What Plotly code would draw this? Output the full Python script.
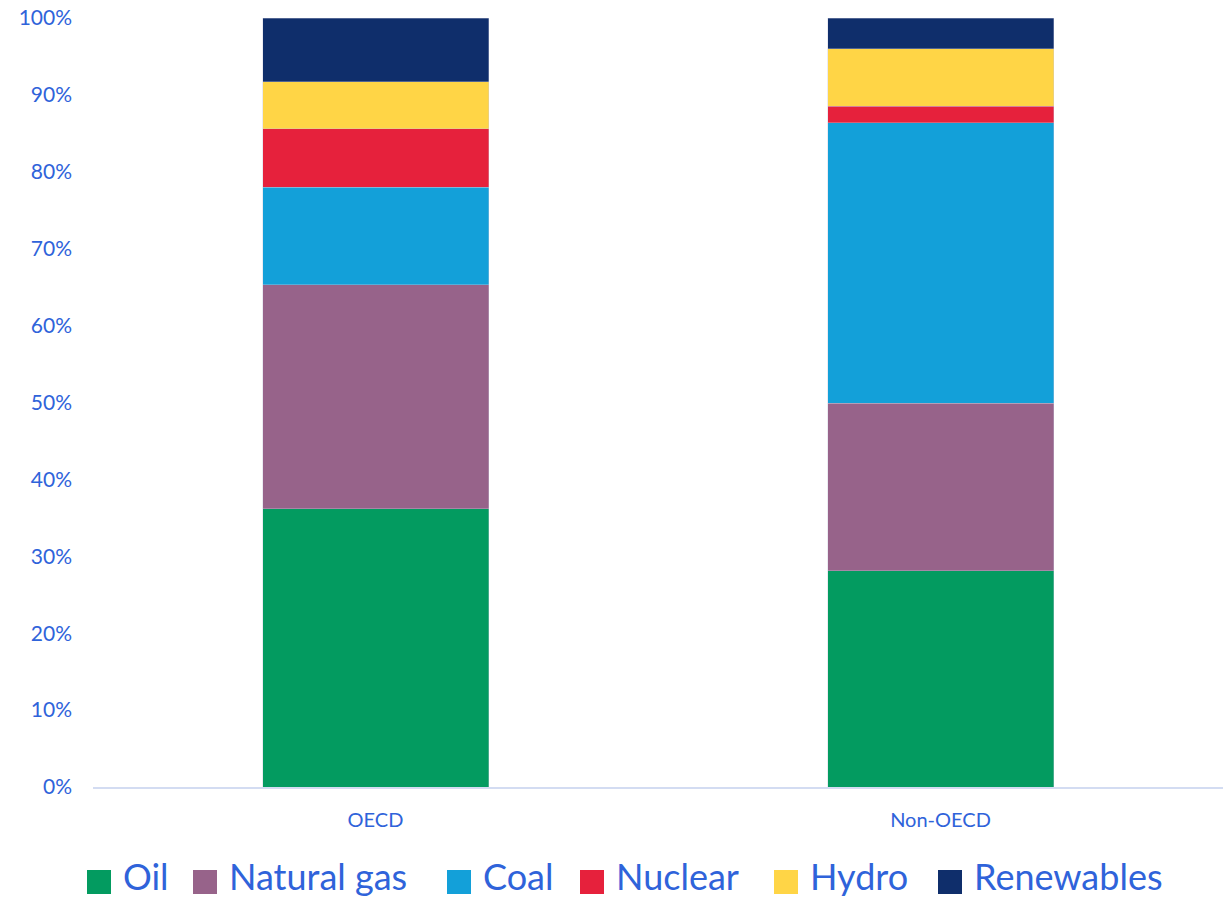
import plotly.graph_objects as go

categories = ["OECD", "Non-OECD"]
series_names = ["Oil", "Natural gas", "Coal", "Nuclear", "Hydro", "Renewables"]
oil = [36.2, 28.1]
natural_gas = [29.1, 21.8]
coal = [12.7, 36.5]
nuclear = [7.6, 2.1]
hydro = [6.1, 7.5]
renewables = [8.3, 4.0]
tick_vals = [0, 10, 20, 30, 40, 50, 60, 70, 80, 90, 100]
tick_text = ["0%", "10%", "20%", "30%", "40%", "50%", "60%", "70%", "80%", "90%", "100%"]

colors = ["#039B60", "#97638A", "#13A0D9", "#E6213C", "#FFD546", "#0F2E6B"]
values = [oil, natural_gas, coal, nuclear, hydro, renewables]
blue = "#2F63DA"

W, H = 1225, 901
ML, MR, MT, MB = 93, 2, 18, 114
PW, PH = W - ML - MR, H - MT - MB

fig = go.Figure()
for name, vals, col in zip(series_names, values, colors):
    fig.add_trace(go.Bar(x=categories, y=vals, name=name, marker_color=col,
                         marker_line_width=0.6, marker_line_color="rgba(200,200,220,0.6)",
                         showlegend=False))

# custom legend (large squares + large text), laid out in pixels
legend_square_left = [87, 193, 447, 580, 774, 938]
square_size = 24
square_top = 870

def px_x(px):
    return (px - ML) / PW

def px_y(py):
    return (H - MB - py) / PH

for name, col, sx in zip(series_names, colors, legend_square_left):
    fig.add_shape(type="rect", xref="paper", yref="paper",
                  x0=px_x(sx), x1=px_x(sx + square_size),
                  y0=px_y(square_top + square_size), y1=px_y(square_top),
                  fillcolor=col, line_width=0)
    fig.add_annotation(xref="paper", yref="paper", x=px_x(sx + square_size + 10),
                       y=px_y(876), xanchor="left", yanchor="middle",
                       text=name, showarrow=False, font=dict(size=36, color=blue, family="Lato"))

fig.update_layout(
    barmode="stack",
    bargap=0.6,
    width=W, height=H,
    margin=dict(l=ML, r=MR, t=MT, b=MB, autoexpand=False),
    plot_bgcolor="white", paper_bgcolor="white",
    font=dict(family="Lato", color=blue),
    showlegend=False,
    xaxis=dict(showline=True, linecolor="#D3DCF2", linewidth=2, tickfont=dict(size=20, color=blue),
               ticks="", showgrid=False, ticklabelstandoff=14),
    yaxis=dict(range=[0, 100], tickvals=tick_vals, ticktext=tick_text, showgrid=False,
               zeroline=False, tickfont=dict(size=21, color=blue), ticks="", ticklabelstandoff=20),
)

fig.write_html("out.html")
